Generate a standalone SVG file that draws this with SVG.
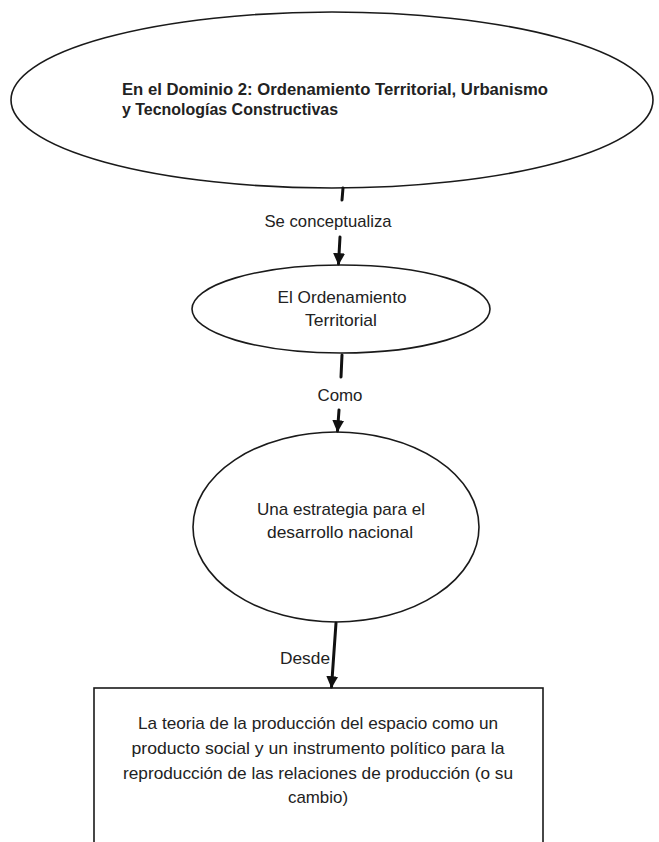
<svg xmlns="http://www.w3.org/2000/svg" width="659" height="842" viewBox="0 0 659 842">
  <style>
    .shape { fill: #ffffff; stroke: #1a1a1a; stroke-width: 1.6; }
    .txt { font-family: "Liberation Sans", Arial, sans-serif; font-size: 17px; fill: #222222; }
    .bold { font-weight: bold; font-size: 16.5px; }
    .conn { fill: none; stroke: #111111; stroke-width: 3; stroke-linecap: round; }
  </style>
  <defs>
    <marker id="arrow" viewBox="0 0 10 10" refX="9" refY="5" markerWidth="4" markerHeight="4" orient="auto" markerUnits="strokeWidth">
      <path d="M0,0 L10,5 L0,10 Z" fill="#111111"/>
    </marker>
  </defs>
  <rect width="659" height="842" fill="#ffffff"/>

  <g id="node-dominio">
    <ellipse class="shape" cx="332" cy="100" rx="321" ry="88"/>
    <text class="txt bold" x="122" y="95" textLength="426" lengthAdjust="spacingAndGlyphs">En el Dominio 2: Ordenamiento Territorial, Urbanismo</text>
    <text class="txt bold" x="122" y="115" textLength="216" lengthAdjust="spacingAndGlyphs">y Tecnologías Constructivas</text>
  </g>

  <g id="node-ordenamiento">
    <ellipse class="shape" cx="341" cy="309" rx="149" ry="44"/>
    <text class="txt" x="342" y="303" text-anchor="middle" textLength="129" lengthAdjust="spacingAndGlyphs">El Ordenamiento</text>
    <text class="txt" x="341" y="326" text-anchor="middle" textLength="72" lengthAdjust="spacingAndGlyphs">Territorial</text>
  </g>

  <g id="node-estrategia">
    <ellipse class="shape" cx="336" cy="527" rx="143" ry="95"/>
    <text class="txt" x="341" y="515" text-anchor="middle" textLength="168" lengthAdjust="spacingAndGlyphs">Una estrategia para el</text>
    <text class="txt" x="340" y="538" text-anchor="middle" textLength="146" lengthAdjust="spacingAndGlyphs">desarrollo nacional</text>
  </g>

  <g id="node-teoria">
    <rect class="shape" x="94" y="688" width="449" height="170" stroke-width="2"/>
    <text class="txt" x="318" y="729" text-anchor="middle" textLength="360" lengthAdjust="spacingAndGlyphs">La teoria de la producción del espacio como un</text>
    <text class="txt" x="318" y="754" text-anchor="middle" textLength="373" lengthAdjust="spacingAndGlyphs">producto social y un instrumento político para la</text>
    <text class="txt" x="318" y="779" text-anchor="middle" textLength="390" lengthAdjust="spacingAndGlyphs">reproducción de las relaciones de producción (o su</text>
    <text class="txt" x="318" y="803" text-anchor="middle" textLength="60" lengthAdjust="spacingAndGlyphs">cambio)</text>
  </g>

  <g id="connectors">
    <line class="conn" x1="343" y1="188" x2="342" y2="200"/>
    <text class="txt" x="328" y="227" text-anchor="middle" textLength="127" lengthAdjust="spacingAndGlyphs">Se conceptualiza</text>
    <line class="conn" x1="340" y1="237" x2="338.5" y2="264" marker-end="url(#arrow)"/>

    <line class="conn" x1="342" y1="355" x2="341" y2="377"/>
    <text class="txt" x="340" y="401" text-anchor="middle" textLength="45" lengthAdjust="spacingAndGlyphs">Como</text>
    <line class="conn" x1="339" y1="410" x2="337.5" y2="431" marker-end="url(#arrow)"/>

    <line class="conn" x1="336" y1="623" x2="331.5" y2="687" marker-end="url(#arrow)"/>
    <text class="txt" x="305" y="664" text-anchor="middle" textLength="50" lengthAdjust="spacingAndGlyphs">Desde</text>
  </g>
</svg>
